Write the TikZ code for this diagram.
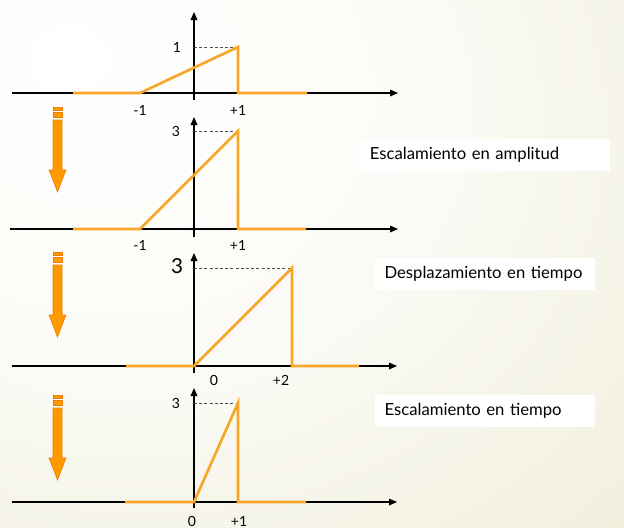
\documentclass[tikz,border=0pt]{standalone}
\usepackage{fontspec}
\setmainfont{Lato}
\usetikzlibrary{arrows.meta}
\definecolor{SignalOrange}{RGB}{247,166,40}
\definecolor{ArrowOrange}{RGB}{255,153,0}
\definecolor{ArrowEdge}{RGB}{235,125,0}
\definecolor{BgEdge}{RGB}{231,227,195}
\pgfdeclareradialshading{slidebg}{\pgfpoint{-20bp}{20bp}}{color(0bp)=(white); color(25bp)=(white!85!BgEdge); color(75bp)=(BgEdge); color(100bp)=(BgEdge)}

\begin{document}
\begin{tikzpicture}[
    x=0.75pt, y=-0.75pt,
    axis/.style={black, line width=0.9pt, -{Triangle[length=6pt, width=5pt]}},
    signal/.style={SignalOrange, line width=2pt, line join=miter},
    guide/.style={black!70, line width=0.65pt, dash pattern=on 2.3pt off 1.6pt},
    tick/.style={inner sep=1pt, font=\fontsize{10.5}{12}\selectfont},
    note/.style={fill=white, anchor=north west, minimum height=24pt, inner xsep=7pt,
        align=left, font=\fontsize{12.5}{14}\selectfont},
]
% background
\shade[shading=slidebg] (0,0) rectangle (624,527);

% original signal
\draw[axis] (12,93) -- (398,93);
\draw[axis] (194,100) -- (194,12);
\draw[guide] (194,47) -- (238,47);
\draw[signal] (73,93) -- (140,93) -- (238,47) -- (238,93) -- (307,93);
\node[tick] (oneA) at (177,47) {1};
\node[tick] (minA) at (140,110) {-1};
\node[tick] (plusA) at (238,110) {+1};

% amplitude scaling
\draw[axis] (10,229) -- (398,229);
\draw[axis] (194,237) -- (194,117);
\draw[guide] (194,131) -- (238,131);
\draw[signal] (73,229) -- (140,229) -- (238,131) -- (238,229) -- (306,229);
\node[tick] (threeB) at (176,131) {3};
\node[tick] (minB) at (140,245) {-1};
\node[tick] (plusB) at (238,245) {+1};
\node[note, minimum width=187.5pt, text width=173pt] (ampl) at (360,139) {Escalamiento en amplitud};

% time shift
\draw[axis] (12,366) -- (397,366);
\draw[axis] (194,373) -- (194,253);
\draw[guide] (194,268) -- (292,268);
\draw[signal] (126,366) -- (194,366) -- (292,268) -- (292,366) -- (359,366);
\node[tick, font=\fontsize{15.5}{17}\selectfont] (threeC) at (177,266) {3};
\node[tick] (zeroC) at (214,380) {0};
\node[tick] (plusC) at (281,380) {+2};
\node[note, minimum width=165pt, text width=151pt] (shift) at (375,258) {Desplazamiento en tiempo};

% time scaling
\draw[axis] (12,502) -- (397,502);
\draw[axis] (194,508) -- (194,388);
\draw[guide] (194,403) -- (238,403);
\draw[signal] (125,502) -- (194,502) -- (238,403) -- (238,502) -- (306,502);
\node[tick] (threeD) at (176,403) {3};
\node[tick] (zeroD) at (192,521) {0};
\node[tick] (plusD) at (239,521) {+1};
\node[note, minimum width=165pt, text width=151pt] (tscale) at (375,395) {Escalamiento en tiempo};

% block arrows between the steps
\foreach \t in {107,252,395}{
  \filldraw[fill=ArrowOrange, draw=ArrowEdge, line width=0.4pt] (53,\t) rectangle (62,\t+3);
  \filldraw[fill=ArrowOrange, draw=ArrowEdge, line width=0.4pt] (53,\t+5) rectangle (62,\t+10);
  \filldraw[fill=ArrowOrange, draw=ArrowEdge, line width=0.4pt]
    (53,\t+13) -- (62,\t+13) -- (62,\t+63) -- (66,\t+63) -- (57.5,\t+85)
    -- (49,\t+63) -- (53,\t+63) -- cycle;
}
\end{tikzpicture}
\end{document}
